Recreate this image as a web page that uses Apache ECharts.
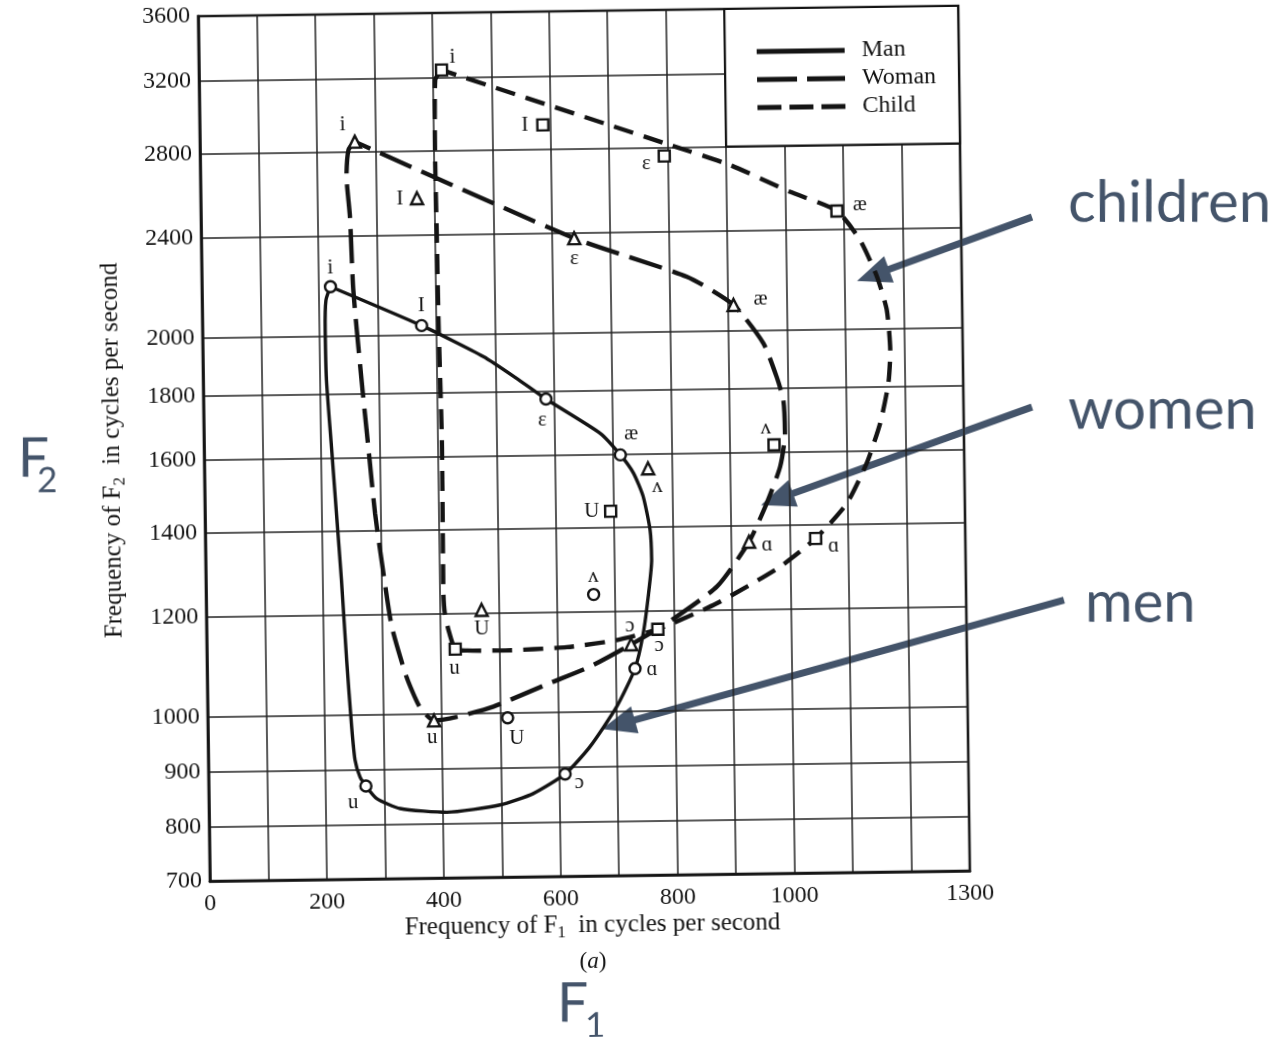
<!DOCTYPE html>
<html>
<head>
<meta charset="utf-8">
<title>Formant frequencies F1 / F2</title>
<script src="https://cdn.jsdelivr.net/npm/echarts@6/dist/echarts.min.js"></script>
<style>
  html, body { margin: 0; padding: 0; background: #fff; overflow: hidden; }
  /* the printed page sits a little askew, so the whole plate is tilted */
  #chart { width: 1284px; height: 1037px; transform: rotate(-0.78deg); transform-origin: 584px 443.5px; }
</style>
</head>
<body>
<div id="chart"></div>
<script>
// ---- data -------------------------------------------------------------
// vowel symbols, same order in every array below
const vowels = ['i', 'I', 'ε', 'æ', 'ʌ', 'ɑ', 'ɔ', 'U', 'u'];

// average formant frequencies (cycles per second)
const manF1   = [220, 375, 586, 712, 663, 732, 610, 513, 269];
const manF2   = [2189, 2034, 1773, 1598, 1239, 1081, 887, 991, 870];
const womanF1 = [265, 370, 638, 909, 759, 930, 726, 471, 387];
const womanF2 = [2851, 2567, 2377, 2096, 1558, 1359, 1130, 1208, 988];
const childF1 = [415, 587, 794, 1088, 975, 1044, 772, 694, 425];
const childF2 = [3243, 2926, 2756, 2482, 1621, 1365, 1161, 1442, 1125];

// vowel loops, [F1, F2] pairs, traced round each speaker's vowel space
const manLoop = [
  [220, 2189], [212, 2136], [210, 2022], [211, 1846], [218, 1634], [225, 1446],
  [232, 1280], [239, 1106], [246, 979], [251, 918], [259, 887], [269, 870],
  [287, 847], [327, 828], [407, 820], [498, 832], [555, 852], [610, 887],
  [653, 936], [700, 1009], [732, 1081], [747, 1153], [757, 1240], [763, 1318],
  [761, 1392], [750, 1480], [734, 1545], [712, 1598], [678, 1663], [586, 1773],
  [536, 1843], [480, 1919], [375, 2034], [220, 2189]
];
const womanLoop = [
  [265, 2851], [254, 2809], [250, 2675], [255, 2486], [259, 2174], [271, 1844],
  [281, 1632], [291, 1445], [304, 1294], [317, 1174], [341, 1071], [363, 1013],
  [387, 988], [426, 994], [489, 1012], [586, 1055], [655, 1086], [726, 1130],
  [787, 1173], [874, 1253], [930, 1359], [961, 1457], [985, 1558], [994, 1655],
  [992, 1759], [981, 1836], [959, 1953], [909, 2096], [830, 2209], [638, 2377],
  [265, 2851]
];
const childLoop = [
  [415, 3243], [404, 3185], [402, 2735], [403, 2421], [404, 2042], [407, 1629],
  [406, 1246], [408, 1202], [414, 1165], [425, 1125], [445, 1122], [502, 1121],
  [616, 1126], [701, 1139], [772, 1161], [873, 1215], [982, 1297], [1044, 1365],
  [1098, 1454], [1133, 1564], [1157, 1682], [1172, 1809], [1176, 1922], [1171, 2069],
  [1155, 2199], [1127, 2352], [1088, 2482], [1008, 2574], [906, 2707], [804, 2812],
  [415, 3243]
];

// axis ticks
const f1Labelled = [0, 200, 400, 600, 800, 1000, 1300];
const f2Ticks = [700, 800, 900, 1000, 1200, 1400, 1600, 1800, 2000, 2400, 2800, 3200, 3600];
const legendBoxF1 = [900, 1300];
const legendBoxF2 = [2800, 3600];

// ---- F2 scale: linear below 1000 c/s, logarithmic above ---------------
function toScale(f) { return f <= 1000 ? f / 1000 : 1 + Math.log(f / 1000); }
function fromScale(t) { return t <= 1 ? t * 1000 : 1000 * Math.exp(t - 1); }

// ---- styling ----------------------------------------------------------
const ink = '#141414';
const slate = '#44546A';
const serif = '"Liberation Serif", "Times New Roman", serif';
const sans = 'Lato, "Open Sans", sans-serif';

// where each vowel symbol sits relative to its marker (px)
const labelOffsets = {
  man:   [[0, -19], [0, -20], [-4, 21], [11, -21], [0, -18], [17, 1], [14, 9], [9, 21], [-13, 16]],
  woman: [[-12, -17], [-17, 0], [0, 20], [27, -5], [9, 18], [18, 3], [-1, -19], [0, 19], [-2, 17]],
  child: [[11, -13], [-18, 0], [-18, 7], [23, -6], [-8, -17], [18, 8], [1, 16], [-19, 0], [-1, 19]]
};

const loopData = loop => loop.map(p => [p[0], toScale(p[1])]);
const vowelData = (f1s, f2s, offsets) => vowels.map((v, k) => ({
  name: v,
  value: [f1s[k], toScale(f2s[k])],
  label: { offset: offsets[k] }
}));

function loopSeries(name, loop, width, dash, extra) {
  return Object.assign({
    name: name,
    type: 'line',
    data: loopData(loop),
    smooth: 0.2,
    symbol: 'none',
    showSymbol: false,
    color: ink,
    lineStyle: { color: ink, width: width, type: dash, cap: 'butt' },
    silent: true,
    z: 3
  }, extra || {});
}

function vowelSeries(name, f1s, f2s, offsets, symbol, size) {
  return {
    name: name,
    type: 'scatter',
    data: vowelData(f1s, f2s, offsets),
    symbol: symbol,
    symbolSize: size,
    itemStyle: { color: '#fff', borderColor: ink, borderWidth: 2.4, opacity: 1 },
    label: {
      show: true,
      position: 'inside',
      formatter: '{b}',
      fontFamily: serif,
      fontSize: 21,
      color: ink
    },
    silent: true,
    z: 5
  };
}

// annotation arrow: shaft plus a solid triangular head
function arrow(tail, tip) {
  const dx = tip[0] - tail[0], dy = tip[1] - tail[1];
  const len = Math.hypot(dx, dy), ux = dx / len, uy = dy / len;
  const headLen = 34, halfW = 14;
  const bx = tip[0] - ux * headLen, by = tip[1] - uy * headLen;
  return [
    { type: 'line', shape: { x1: tail[0], y1: tail[1], x2: bx + ux * 3, y2: by + uy * 3 },
      style: { stroke: slate, lineWidth: 7 } },
    { type: 'polygon',
      shape: { points: [[tip[0], tip[1]], [bx - uy * halfW, by + ux * halfW], [bx + uy * halfW, by - ux * halfW]] },
      style: { fill: slate } }
  ];
}

const tilt = 0.78 * Math.PI / 180;
const titleRich = {
  a: { fontFamily: serif, fontSize: 25, lineHeight: 32, fill: ink },
  s: { fontFamily: serif, fontSize: 17, lineHeight: 18, verticalAlign: 'bottom', fill: ink }
};

const chart = echarts.init(document.getElementById('chart'), null, { renderer: 'canvas' });

chart.setOption({
  animation: false,
  backgroundColor: 'transparent',
  textStyle: { fontFamily: serif, color: ink },
  grid: {
    left: 204, top: 11, width: 760, height: 865,
    show: true, borderColor: ink, borderWidth: 2.6, backgroundColor: 'transparent',
    containLabel: false, outerBoundsMode: 'none'
  },
  xAxis: {
    type: 'value',
    min: 0, max: 1300, interval: 100,
    axisLine: { show: true, lineStyle: { color: ink, width: 2.6 } },
    axisTick: { show: false },
    splitLine: { show: true, lineStyle: { color: '#222', width: 1.5 } },
    axisLabel: {
      show: true, margin: 11, fontFamily: serif, fontSize: 24, color: ink,
      showMinLabel: true, showMaxLabel: true, hideOverlap: false,
      formatter: v => (f1Labelled.indexOf(v) >= 0 ? String(v) : '')
    }
  },
  yAxis: {
    type: 'value',
    min: toScale(f2Ticks[0]),
    max: toScale(f2Ticks[f2Ticks.length - 1]),
    axisLine: { show: true, lineStyle: { color: ink, width: 2.6 } },
    axisTick: { show: false, customValues: f2Ticks.map(toScale) },
    splitLine: { show: true, lineStyle: { color: '#222', width: 1.5 } },
    axisLabel: {
      show: true, margin: 8, fontFamily: serif, fontSize: 24, color: ink,
      customValues: f2Ticks.map(toScale),
      showMinLabel: true, showMaxLabel: true, hideOverlap: false,
      formatter: v => String(Math.round(fromScale(v) / 100) * 100)
    }
  },
  legend: {
    orient: 'vertical',
    left: 757, top: 37,
    itemWidth: 88, itemHeight: 5, itemGap: 4,
    selectedMode: false,
    itemStyle: { color: ink, borderWidth: 0 },
    textStyle: { fontFamily: serif, fontSize: 24, color: ink, padding: [0, 0, 0, 12] },
    data: [
      { name: 'Man', icon: 'path://M0,0H88V5H0Z' },
      { name: 'Woman', icon: 'path://M0,0H40V5H0Z M50,0H88V5H50Z' },
      { name: 'Child', icon: 'path://M0,0H24V5H0Z M32,0H56V5H32Z M64,0H88V5H64Z' }
    ],
    z: 10
  },
  series: [
    loopSeries('Man', manLoop, 3.4, 'solid', {
      markArea: {
        silent: true,
        label: { show: false },
        itemStyle: { color: '#fff', borderColor: ink, borderWidth: 2.2, opacity: 1 },
        data: [[
          { coord: [legendBoxF1[0], toScale(legendBoxF2[0])] },
          { coord: [legendBoxF1[1], toScale(legendBoxF2[1])] }
        ]]
      }
    }),
    loopSeries('Woman', womanLoop, 4.4, [34, 11]),
    loopSeries('Child', childLoop, 4.4, [20, 11]),
    vowelSeries('Man vowels', manF1, manF2, labelOffsets.man, 'circle', 11),
    vowelSeries('Woman vowels', womanF1, womanF2, labelOffsets.woman, 'triangle', 12),
    vowelSeries('Child vowels', childF1, childF2, labelOffsets.child, 'rect', 11)
  ],
  graphic: [
    {
      type: 'text', x: 112, y: 444, rotation: Math.PI / 2, silent: true,
      style: {
        text: '{a|Frequency of F}{s|2}{a|  in cycles per second}',
        rich: titleRich, align: 'center', verticalAlign: 'middle'
      }
    },
    {
      type: 'text', x: 586, y: 925, silent: true,
      style: {
        text: '{a|Frequency of F}{s|1}{a|  in cycles per second}',
        rich: titleRich, align: 'center', verticalAlign: 'middle'
      }
    },
    {
      type: 'text', x: 586, y: 962, silent: true,
      style: {
        text: '{p|(}{it|a}{p|)}',
        rich: {
          p: { fontFamily: serif, fontSize: 23, fill: ink },
          it: { fontFamily: serif, fontSize: 23, fontStyle: 'italic', fill: ink }
        },
        align: 'center', verticalAlign: 'middle'
      }
    },
    {
      // callouts laid over the plate, kept level with the page
      type: 'group', x: 0, y: 0, rotation: -tilt,
      originX: 584, originY: 443.5, origin: [584, 443.5],
      silent: true,
      children: [
        { type: 'text', x: 1068, y: 203, style: { text: 'children', fontFamily: sans, fontSize: 58, fill: slate, align: 'left', verticalAlign: 'middle' } },
        { type: 'text', x: 1068, y: 410, style: { text: 'women', fontFamily: sans, fontSize: 58, fill: slate, align: 'left', verticalAlign: 'middle' } },
        { type: 'text', x: 1085, y: 603, style: { text: 'men', fontFamily: sans, fontSize: 58, fill: slate, align: 'left', verticalAlign: 'middle' } },
        { type: 'text', x: 18, y: 459, style: { text: 'F', fontFamily: sans, fontSize: 55, fill: slate, align: 'left', verticalAlign: 'middle' } },
        { type: 'text', x: 37, y: 481, style: { text: '2', fontFamily: sans, fontSize: 35, fill: slate, align: 'left', verticalAlign: 'middle' } },
        { type: 'text', x: 557, y: 1004, style: { text: 'F', fontFamily: sans, fontSize: 55, fill: slate, align: 'left', verticalAlign: 'middle' } },
        { type: 'text', x: 585, y: 1026, style: { text: '1', fontFamily: sans, fontSize: 35, fill: slate, align: 'left', verticalAlign: 'middle' } }
      ]
        .concat(arrow([1032, 217], [857, 281]))
        .concat(arrow([1032, 407], [761, 505]))
        .concat(arrow([1064, 600], [602, 729]))
    }
  ]
});
</script>
</body>
</html>
